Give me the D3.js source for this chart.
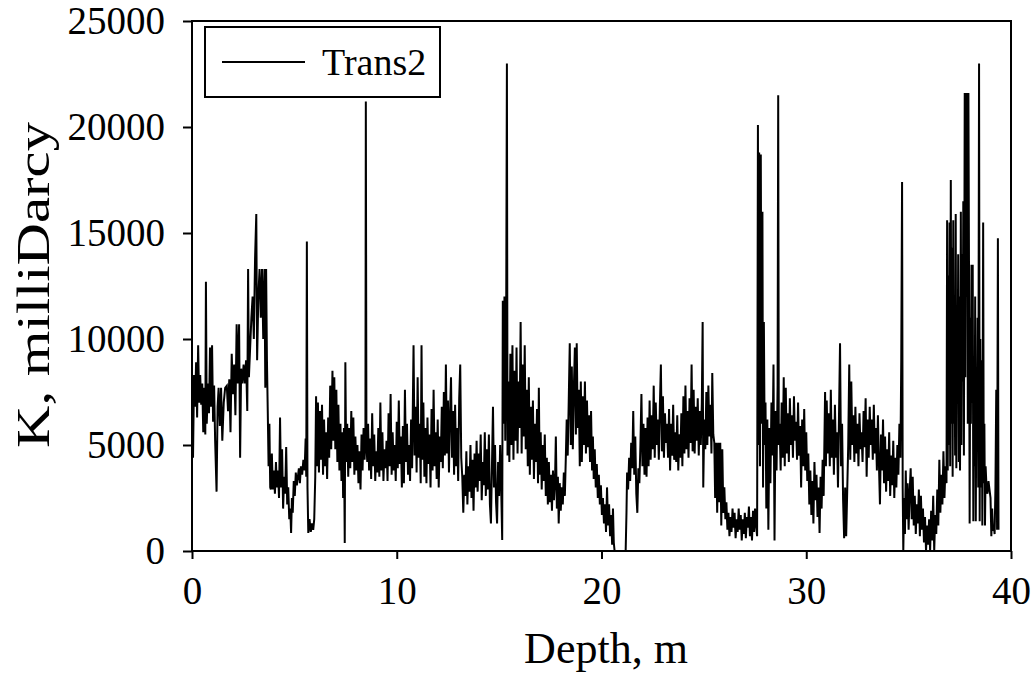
<!DOCTYPE html>
<html>
<head>
<meta charset="utf-8">
<script src="https://cdn.jsdelivr.net/npm/d3@7"></script>
<style>
  html, body { margin: 0; padding: 0; background: #fff; }
  svg { display: block; }
  text { font-family: "Liberation Serif", "Times New Roman", serif; fill: #000; }
</style>
</head>
<body>
<svg id="chart" width="1034" height="676"></svg>
<script>
// ---- data ----
const seriesName = "Trans2";
const xTicks = [0, 10, 20, 30, 40];
const yTicks = [0, 5000, 10000, 15000, 20000, 25000];
const xTitle = "Depth, m";
const yTitle = "K, milliDarcy";

// [depth (m), K (milliDarcy)]
const trans2 = [
[0.00,8100],[0.05,4400],[0.10,8300],[0.15,6800],[0.20,8900],[0.25,6300],[0.30,9700],[0.35,7000],[0.40,8300],[0.45,6900],[0.50,7900],[0.55,5600],[0.60,7700],[0.65,5500],[0.68,12700],[0.72,6000],[0.78,7900],[0.83,6500],[0.88,9600],[0.93,6800],[0.98,9700],[1.03,6100],[1.08,7800],[1.13,5200],[1.20,2800],[1.25,6800],[1.30,7700],[1.36,5900],[1.42,7700],[1.48,5200],[1.55,7000],[1.62,7700],[1.70,7800],[1.76,6600],[1.82,8100],[1.88,5600],[1.94,9300],[2.00,7400],[2.06,8800],[2.12,6400],[2.18,10700],[2.24,7900],[2.30,10700],[2.35,4400],[2.40,8600],[2.46,7900],[2.52,8800],[2.58,7900],[2.64,9000],[2.70,6600],[2.74,13300],[2.78,8200],[2.84,9600],[2.90,11000],[2.96,12000],[3.02,10000],[3.08,13800],[3.14,15900],[3.18,9000],[3.24,12000],[3.30,13300],[3.36,11000],[3.42,13300],[3.48,10000],[3.54,13300],[3.58,7700],[3.62,13300],[3.66,9000],[3.70,6600],[3.74,4000],[3.78,6000],[3.82,3000],
[3.85,2900],[3.90,4600],[3.95,2900],[4.00,3800],[4.05,2700],[4.10,4200],[4.15,3000],[4.20,3800],[4.25,2500],[4.30,6300],[4.35,3000],[4.40,4800],[4.45,2000],[4.50,3500],[4.55,2700],[4.60,4900],[4.65,2200],[4.70,3000],[4.75,1500],[4.80,2000],[4.84,850],[4.88,2500],[4.92,1800],[4.97,3300],[5.02,2600],[5.07,3700],[5.12,3100],[5.17,3500],[5.22,3900],[5.27,3200],[5.32,4000],[5.38,3600],[5.44,4300],[5.50,3800],[5.55,5300],[5.58,3500],[5.61,14600],[5.64,3000],[5.68,850],[5.74,1500],[5.80,900],[5.86,1300],[5.92,1000],[5.97,1500],[6.02,3500],
[6.06,7300],[6.10,4000],[6.15,7000],[6.20,3700],[6.25,6600],[6.30,4300],[6.35,6900],[6.40,3600],[6.45,6200],[6.50,4000],[6.55,5600],[6.60,3400],[6.65,6300],[6.70,4400],[6.75,7800],[6.80,4800],[6.86,8500],[6.90,5200],[6.95,8200],[7.00,4800],[7.05,7600],[7.10,4200],[7.15,6900],[7.20,3800],[7.25,6000],[7.30,3300],[7.35,5600],[7.38,2500],[7.42,5800],[7.46,380],[7.49,8900],[7.53,4200],[7.58,6000],[7.63,3500],[7.68,5800],[7.73,3900],[7.78,6600],[7.83,4200],[7.88,6300],[7.93,3600],[7.98,5400],[8.03,3800],[8.08,5000],[8.13,3200],[8.18,4700],[8.23,2900],[8.28,5500],[8.33,3800],[8.38,5800],[8.43,4300],[8.47,5500],[8.49,21200],[8.52,5000],[8.56,4200],
[8.60,6000],[8.65,3800],[8.70,5300],[8.75,3400],[8.80,6500],[8.85,4000],[8.90,5500],[8.95,3300],[9.00,4700],[9.05,3700],[9.10,5800],[9.15,3500],[9.20,7000],[9.25,3800],[9.30,5600],[9.35,3300],[9.40,4800],[9.45,3900],[9.50,5200],[9.55,3300],[9.60,6500],[9.65,4000],[9.70,7400],[9.75,3600],[9.80,5600],[9.85,3800],[9.90,5000],[9.95,3300],[10.00,6100],[10.05,3900],[10.10,7100],[10.15,4100],[10.20,5400],[10.25,3000],[10.30,5900],[10.35,3200],[10.40,7600],[10.45,4200],[10.50,6000],[10.55,3600],[10.60,5000],[10.65,3300],[10.70,6200],[10.75,3900],[10.82,9700],[10.87,4500],[10.92,6800],[10.97,3700],[11.02,8200],[11.07,4400],[11.12,6000],[11.17,3200],[11.21,9700],[11.25,4300],[11.30,7000],[11.35,3500],[11.40,5800],[11.45,3200],[11.50,6300],[11.55,4100],[11.60,5500],[11.65,3000],[11.70,6700],[11.75,3800],[11.80,7600],[11.85,4000],[11.90,5600],[11.95,3400],[12.00,6200],[12.05,3000],[12.10,5400],[12.15,4200],[12.20,6800],[12.25,3900],[12.30,7500],[12.35,4500],[12.40,8800],[12.45,4600],[12.50,7100],[12.55,3700],[12.60,6400],[12.65,8200],[12.70,4400],[12.75,6600],[12.80,3600],[12.85,6900],[12.90,4000],[12.95,5800],[13.00,3300],[13.05,7200],[13.10,8800],[13.15,4400],[13.20,3500],[13.25,1800],[13.30,3600],
[13.35,2600],[13.40,4700],[13.45,2200],[13.50,4000],[13.55,2800],[13.60,5000],[13.65,2500],[13.70,4300],[13.75,1900],[13.80,4600],[13.85,3000],[13.90,5200],[13.95,2800],[14.00,4600],[14.05,3300],[14.10,5500],[14.15,2400],[14.20,4200],[14.25,3100],[14.30,5600],[14.35,2600],[14.40,4800],[14.45,2900],[14.50,5500],[14.55,2200],[14.60,1300],[14.65,4000],[14.70,6800],[14.75,3000],[14.80,5000],[14.85,2300],[14.90,1300],[14.95,4200],[15.00,2600],[15.05,5000],[15.10,3000],[15.15,520],[15.18,11800],[15.22,6000],[15.26,12000],[15.30,5200],[15.34,9500],[15.38,23000],[15.41,4500],
[15.45,8000],[15.50,4200],[15.55,9300],[15.60,5000],[15.65,9700],[15.70,4300],[15.75,8500],[15.80,5200],[15.85,9600],[15.90,4600],[15.95,8000],[16.00,5800],[16.05,10800],[16.10,4600],[16.15,8800],[16.20,5400],[16.25,9700],[16.30,4800],[16.35,7600],[16.40,4000],[16.45,8200],[16.50,3600],[16.55,6800],[16.60,4300],[16.65,7100],[16.70,3400],[16.75,6000],[16.80,4200],[16.85,6700],[16.90,3200],[16.94,7700],[16.98,3600],[17.03,5600],[17.08,2900],[17.13,5000],[17.18,3300],[17.23,5500],[17.28,2600],[17.33,4400],[17.38,2200],
[17.43,4200],[17.48,2300],[17.53,3600],[17.58,1900],[17.63,3800],[17.68,2400],[17.73,3300],[17.77,5400],[17.82,2000],[17.87,3500],[17.91,1300],[17.96,3200],[18.01,1900],[18.06,3000],[18.11,2200],[18.16,3700],[18.21,2600],[18.26,4500],
[18.30,6200],[18.35,4500],[18.40,7100],[18.45,9800],[18.50,5000],[18.55,8700],[18.60,4800],[18.65,7700],[18.70,9600],[18.75,5500],[18.79,9800],[18.84,5800],[18.89,7600],[18.94,4000],[18.99,8000],[19.04,4200],[19.09,7300],[19.14,5000],[19.19,8000],[19.24,4600],[19.29,7100],[19.34,4900],[19.39,6400],[19.44,4200],[19.49,6600],[19.54,3800],
[19.58,5400],[19.62,3400],[19.67,4800],[19.72,3000],[19.77,4100],[19.82,2500],[19.87,3600],[19.92,2200],[19.97,3100],[20.02,1700],[20.07,2500],[20.12,1300],[20.17,2200],[20.22,900],[20.27,3000],[20.32,1200],[20.37,2200],[20.42,700],[20.47,1700],[20.52,300],[20.56,2000],[20.60,400],[20.64,0],[20.80,0],[21.00,0],[21.18,0],[21.22,1800],
[21.25,3700],[21.30,2900],[21.35,4400],[21.40,3300],[21.45,5100],[21.50,3900],[21.55,6600],[21.60,3600],[21.65,5400],[21.70,2700],[21.75,1800],[21.80,3900],[21.85,3200],[21.90,5000],[21.95,7400],[22.00,4000],
[22.05,6000],[22.10,3600],[22.15,5800],[22.20,3500],[22.25,6300],[22.30,4000],[22.35,7100],[22.40,4300],[22.45,6400],[22.50,4800],[22.55,7800],[22.60,4400],[22.65,7000],[22.70,5000],[22.75,6200],[22.80,4300],[22.85,6800],[22.90,8800],[22.95,4700],[23.00,7300],[23.05,4400],[23.10,6500],[23.15,5100],[23.20,6000],[23.25,4400],[23.30,6700],[23.35,3800],[23.40,6000],[23.45,4500],[23.50,6900],[23.55,4300],[23.60,5600],[23.65,4200],[23.70,6400],[23.75,3800],[23.80,5500],[23.85,4400],[23.90,6500],[23.95,4000],[24.00,7300],[24.05,4600],[24.10,7800],[24.15,4800],[24.20,6600],[24.25,4400],[24.30,7200],[24.35,5100],[24.40,8800],[24.45,4700],[24.50,7600],[24.55,4600],[24.60,6800],[24.65,5200],[24.70,7200],[24.75,4500],[24.80,6600],[24.85,5000],[24.90,7000],[24.94,10800],[24.97,3000],[25.02,6200],[25.07,4800],[25.12,7500],[25.17,5000],[25.22,7800],[25.27,5400],[25.32,6900],[25.37,4600],[25.41,8400],[25.46,5500],[25.51,5100],
[25.55,2500],[25.60,5100],[25.65,1800],[25.70,5100],[25.75,2300],[25.80,5100],[25.85,1200],[25.90,4800],[25.95,1800],[26.00,3000],
[26.05,1500],[26.10,2300],[26.15,1000],[26.20,1800],[26.25,700],[26.30,1600],[26.35,900],[26.40,2000],[26.45,1100],[26.50,1800],[26.55,600],[26.60,1500],[26.65,900],[26.70,2000],[26.75,1000],[26.80,1700],[26.85,500],[26.90,1500],[26.95,800],[27.00,1800],[27.05,600],[27.10,1600],[27.15,1100],[27.20,2100],[27.25,700],[27.30,1600],[27.35,500],[27.40,1900],[27.45,900],[27.50,2000],[27.55,1200],[27.60,700],
[27.64,20100],[27.67,5000],[27.70,18800],[27.74,4000],[27.78,18700],[27.82,6000],[27.86,16000],[27.89,3000],[27.93,10800],[27.97,5000],[28.01,7000],[28.05,2000],[28.10,6200],[28.15,1000],[28.20,5800],[28.25,3200],[28.30,7000],[28.35,4500],[28.40,8800],[28.45,500],[28.50,6600],[28.55,3800],[28.60,7800],[28.63,21500],[28.66,5000],
[28.70,6000],[28.75,3800],[28.80,7000],[28.85,4400],[28.90,8200],[28.95,4000],[29.00,7700],[29.05,4600],[29.10,6500],[29.15,4200],[29.20,7200],[29.25,5000],[29.30,6400],[29.35,4400],[29.40,7300],[29.45,5200],[29.50,6100],[29.55,4300],[29.60,7000],[29.65,4500],[29.70,5900],[29.75,3000],[29.80,6200],[29.85,4000],[29.90,6700],[29.95,3800],[30.00,5600],[30.05,3300],
[30.10,4600],[30.15,2200],[30.20,3800],[30.25,1700],[30.30,3300],[30.35,1300],[30.40,4200],[30.45,2400],[30.50,3600],[30.55,1600],[30.60,3000],[30.65,850],[30.70,3500],[30.75,2000],[30.80,4300],[30.85,2600],[30.92,7500],[30.96,4000],
[31.00,7100],[31.05,4600],[31.10,6500],[31.15,4000],[31.20,7600],[31.25,4400],[31.30,6200],[31.35,3600],[31.40,6900],[31.45,4400],[31.50,5600],[31.55,3000],[31.60,6400],[31.65,9800],[31.70,4000],[31.75,6000],[31.80,2400],[31.85,600],[31.90,3000],[31.95,700],[32.00,2800],[32.05,5000],[32.10,8800],[32.15,4300],[32.20,8000],[32.25,5000],
[32.30,6400],[32.35,4200],[32.40,6800],[32.45,4600],[32.50,6000],[32.55,4000],[32.60,6500],[32.65,4800],[32.70,5600],[32.75,4200],[32.80,6600],[32.85,4900],[32.90,7200],[32.95,3500],[33.00,6200],[33.05,4400],[33.10,6800],[33.15,5000],[33.20,6200],[33.25,4300],[33.30,6900],[33.35,4600],[33.40,5800],[33.45,3800],[33.50,6400],[33.55,4100],[33.60,2200],[33.65,5500],[33.70,3800],[33.75,6200],[33.80,3200],[33.85,5400],[33.90,2800],[33.95,4800],[34.00,3300],[34.05,5600],[34.10,2600],[34.15,4500],[34.20,3100],[34.25,5200],[34.30,2500],[34.35,4400],[34.40,3000],[34.45,5000],[34.50,3600],[34.55,6000],[34.60,4400],[34.64,9000],[34.68,17400],[34.71,3000],[34.74,0],
[34.78,2500],[34.82,800],[34.86,3800],[34.90,1500],[34.95,3200],[35.00,1000],[35.05,2800],[35.10,3900],[35.15,1500],[35.20,3500],[35.25,1200],[35.30,2600],[35.35,800],[35.40,2200],[35.45,1300],[35.50,2900],[35.55,700],[35.60,2600],[35.65,1000],[35.70,2000],[35.75,400],[35.80,1600],[35.85,0],[35.90,1200],[35.95,300],[36.00,1500],[36.05,0],[36.10,1900],[36.15,500],[36.20,2600],[36.25,0],[36.30,1700],[36.35,800],[36.40,2900],[36.45,1200],[36.50,4300],[36.55,1800],[36.60,3600],[36.65,2200],[36.70,4700],[36.75,2500],[36.80,4000],[36.85,3200],
[36.88,15600],[36.91,3800],[36.94,13000],[36.97,5000],[37.00,15500],[37.03,4000],[37.06,17500],[37.09,6000],[37.12,14300],[37.15,3500],[37.18,15600],[37.21,6000],[37.24,12000],[37.27,4500],[37.30,15900],[37.33,3900],[37.36,11000],[37.39,7000],[37.42,14000],[37.45,4200],[37.48,12000],[37.51,3800],[37.55,16000],[37.58,5000],[37.61,14000],[37.64,8000],[37.67,16500],[37.70,4500],[37.74,21600],[37.77,8200],[37.80,21600],[37.83,12000],[37.86,21600],[37.89,6000],[37.92,21600],[37.95,13000],[37.98,1300],[38.01,11000],[38.04,6000],[38.07,13500],[38.10,7000],[38.13,13500],[38.16,1400],[38.19,9000],[38.22,4000],[38.25,12000],[38.28,1400],[38.31,8000],[38.34,5000],[38.37,11000],[38.40,3000],[38.44,23000],[38.47,1400],[38.50,10000],[38.53,3000],[38.57,9000],[38.60,1200],[38.64,15500],[38.67,3200],[38.70,6000],[38.73,1200],[38.76,4000],[38.80,3100],[38.85,2700],[38.90,3300],[38.95,2900],[39.00,2500],[39.04,700],[39.08,2000],[39.12,950],[39.16,1200],[39.20,800],[39.24,3000],[39.28,7600],[39.32,1000],[39.36,14750],[39.39,1000]
];

// ---- layout ----
const svg = d3.select("#chart");
const plotLeft = 192, plotRight = 1011, plotTop = 21, plotBottom = 551;
const x = d3.scaleLinear().domain([0, 40]).range([plotLeft, plotRight]);
const y = d3.scaleLinear().domain([0, 25000]).range([plotBottom, plotTop]);
const fontFam = '"Liberation Serif", "Times New Roman", serif';

// data line
const lineGen = d3.line().x(d => x(d[0])).y(d => y(d[1]));
svg.append("path")
  .datum(trans2)
  .attr("d", lineGen)
  .attr("fill", "none")
  .attr("stroke", "#000")
  .attr("stroke-width", 2)
  .attr("stroke-linejoin", "miter");

// plot frame
svg.append("rect")
  .attr("x", plotLeft).attr("y", plotTop)
  .attr("width", plotRight - plotLeft).attr("height", plotBottom - plotTop)
  .attr("fill", "none").attr("stroke", "#000").attr("stroke-width", 2);

// axes
const xAxisG = svg.append("g")
  .attr("transform", `translate(0,${plotBottom})`)
  .call(d3.axisBottom(x).tickValues(xTicks).tickSize(8).tickPadding(17).tickFormat(d3.format("d")));
const yAxisG = svg.append("g")
  .attr("transform", `translate(${plotLeft},0)`)
  .call(d3.axisLeft(y).tickValues(yTicks).tickSize(9).tickPadding(18).tickFormat(d3.format("d")));
[xAxisG, yAxisG].forEach(g => {
  g.select(".domain").remove();
  g.selectAll(".tick line").attr("stroke", "#000").attr("stroke-width", 2);
  g.selectAll(".tick text").attr("font-family", fontFam).attr("font-size", 39).attr("fill", "#000");
});

// axis titles
svg.append("text")
  .attr("x", 606).attr("y", 663)
  .attr("text-anchor", "middle")
  .attr("font-size", 44)
  .text(xTitle);
svg.append("text")
  .attr("transform", "translate(49,285) rotate(-90)")
  .attr("text-anchor", "middle")
  .attr("font-size", 47)
  .attr("textLength", 326)
  .attr("lengthAdjust", "spacingAndGlyphs")
  .text(yTitle);

// legend
const lg = svg.append("g");
lg.append("rect")
  .attr("x", 205).attr("y", 27).attr("width", 235).attr("height", 70)
  .attr("fill", "#fff").attr("stroke", "#000").attr("stroke-width", 2);
lg.append("line")
  .attr("x1", 222).attr("x2", 305).attr("y1", 62).attr("y2", 62)
  .attr("stroke", "#000").attr("stroke-width", 1.8);
lg.append("text")
  .attr("x", 322).attr("y", 75)
  .attr("font-size", 38)
  .text(seriesName);
</script>
</body>
</html>
